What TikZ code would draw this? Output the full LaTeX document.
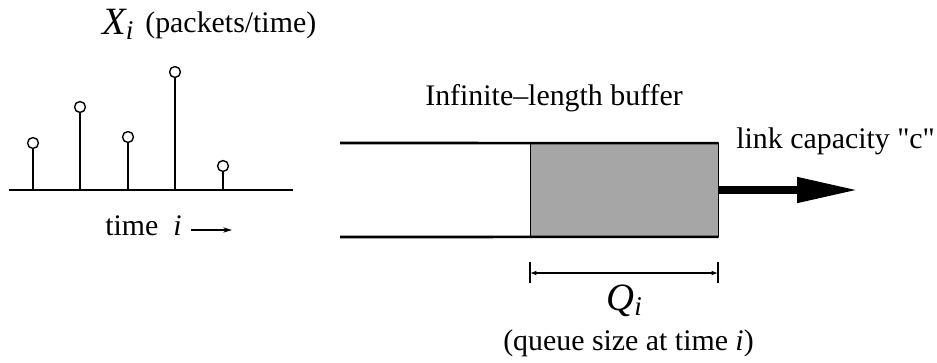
\documentclass[tikz,border=0pt]{standalone}
\usepackage{fontspec}
\setmainfont{Liberation Serif}
\newfontfamily\rawserif{Liberation Serif}[Ligatures=TeXOff]
\usetikzlibrary{arrows.meta, positioning}

\begin{document}
\begin{tikzpicture}[
    x=0.02cm, y=-0.02cm,
    lbl/.style={font=\fontsize{17}{20}\selectfont, inner sep=0pt, anchor=base west},
    big/.style={font=\fontsize{22}{25}\selectfont\itshape, inner sep=0pt, anchor=base west},
    axisline/.style={line width=1.5pt},
    stem/.style={line width=0.6pt},
    dot/.style={circle, draw, line width=0.8pt, fill=white,
        minimum size=6.2pt, inner sep=0pt},
    wall/.style={line width=1.5pt},
    queue/.style={rectangle, draw, line width=0.6pt, fill=black!35,
        minimum width=107pt, minimum height=53.3pt, inner sep=0pt, outer sep=0pt},
    outlink/.style={line width=4.4pt, -{Triangle[length=34.6pt,width=13.6pt]}},
    timearr/.style={line width=0.6pt, -{Stealth[length=5pt,width=3pt]}},
    dim/.style={line width=0.6pt, {Latex[length=3.6pt,width=2.6pt]}-{Latex[length=3.6pt,width=2.6pt]}},
    tick/.style={line width=0.6pt}
]
\useasboundingbox (0,0) rectangle (937,362);

% arrivals
\coordinate (a0) at (9,190);
\coordinate (a1) at (293,190);
\draw[axisline] (a0) -- (a1);
\foreach \x/\h [count=\k] in {33/143,80/107,128/137,175/72,223/166} {
    \coordinate (b\k) at (\x,190);
    \node[dot] (x\k) at (\x,\h) {};
    \draw[stem] (b\k) -- (x\k);
}
\node[big] (xi) at (102,34) {X\textsubscript{i}};
\node[lbl] (pkt) at (145,32) {(packets/time)};
\node[lbl] (tm) at (105,235) {time~~\textit{i}};
\coordinate (tbeg) at (191,230);
\coordinate (tend) at (232,230);
\draw[timearr] (tbeg) -- (tend);

% buffer
\node[queue] (buf) at (624.5,190) {};
\coordinate (tin) at (340,143);
\coordinate (bin) at (340,237);
\draw[wall] (tin) -- (buf.north east);
\draw[wall] (bin) -- (buf.south east);
\node[lbl] (inf) at (425,105) {Infinite--length buffer};

% output link
\coordinate (out) at (858,190);
\draw[outlink] (buf.east) -- (out);
\node[lbl, font=\fontsize{17}{20}\rawserif] (cap) at (736,148) {link capacity "c"};

% queue size
\coordinate (dl) at (530,273);
\coordinate (dr) at (718,273);
\draw[tick] (530,262) -- (530,283);
\draw[tick] (718,262) -- (718,283);
\draw[dim] (dl) -- (dr);
\node[big] (qi) at (606,310) {Q\textsubscript{i}};
\node[lbl, anchor=base] (qs) at (628.5,350) {(queue size at time \textit{i})};

\end{tikzpicture}
\end{document}
